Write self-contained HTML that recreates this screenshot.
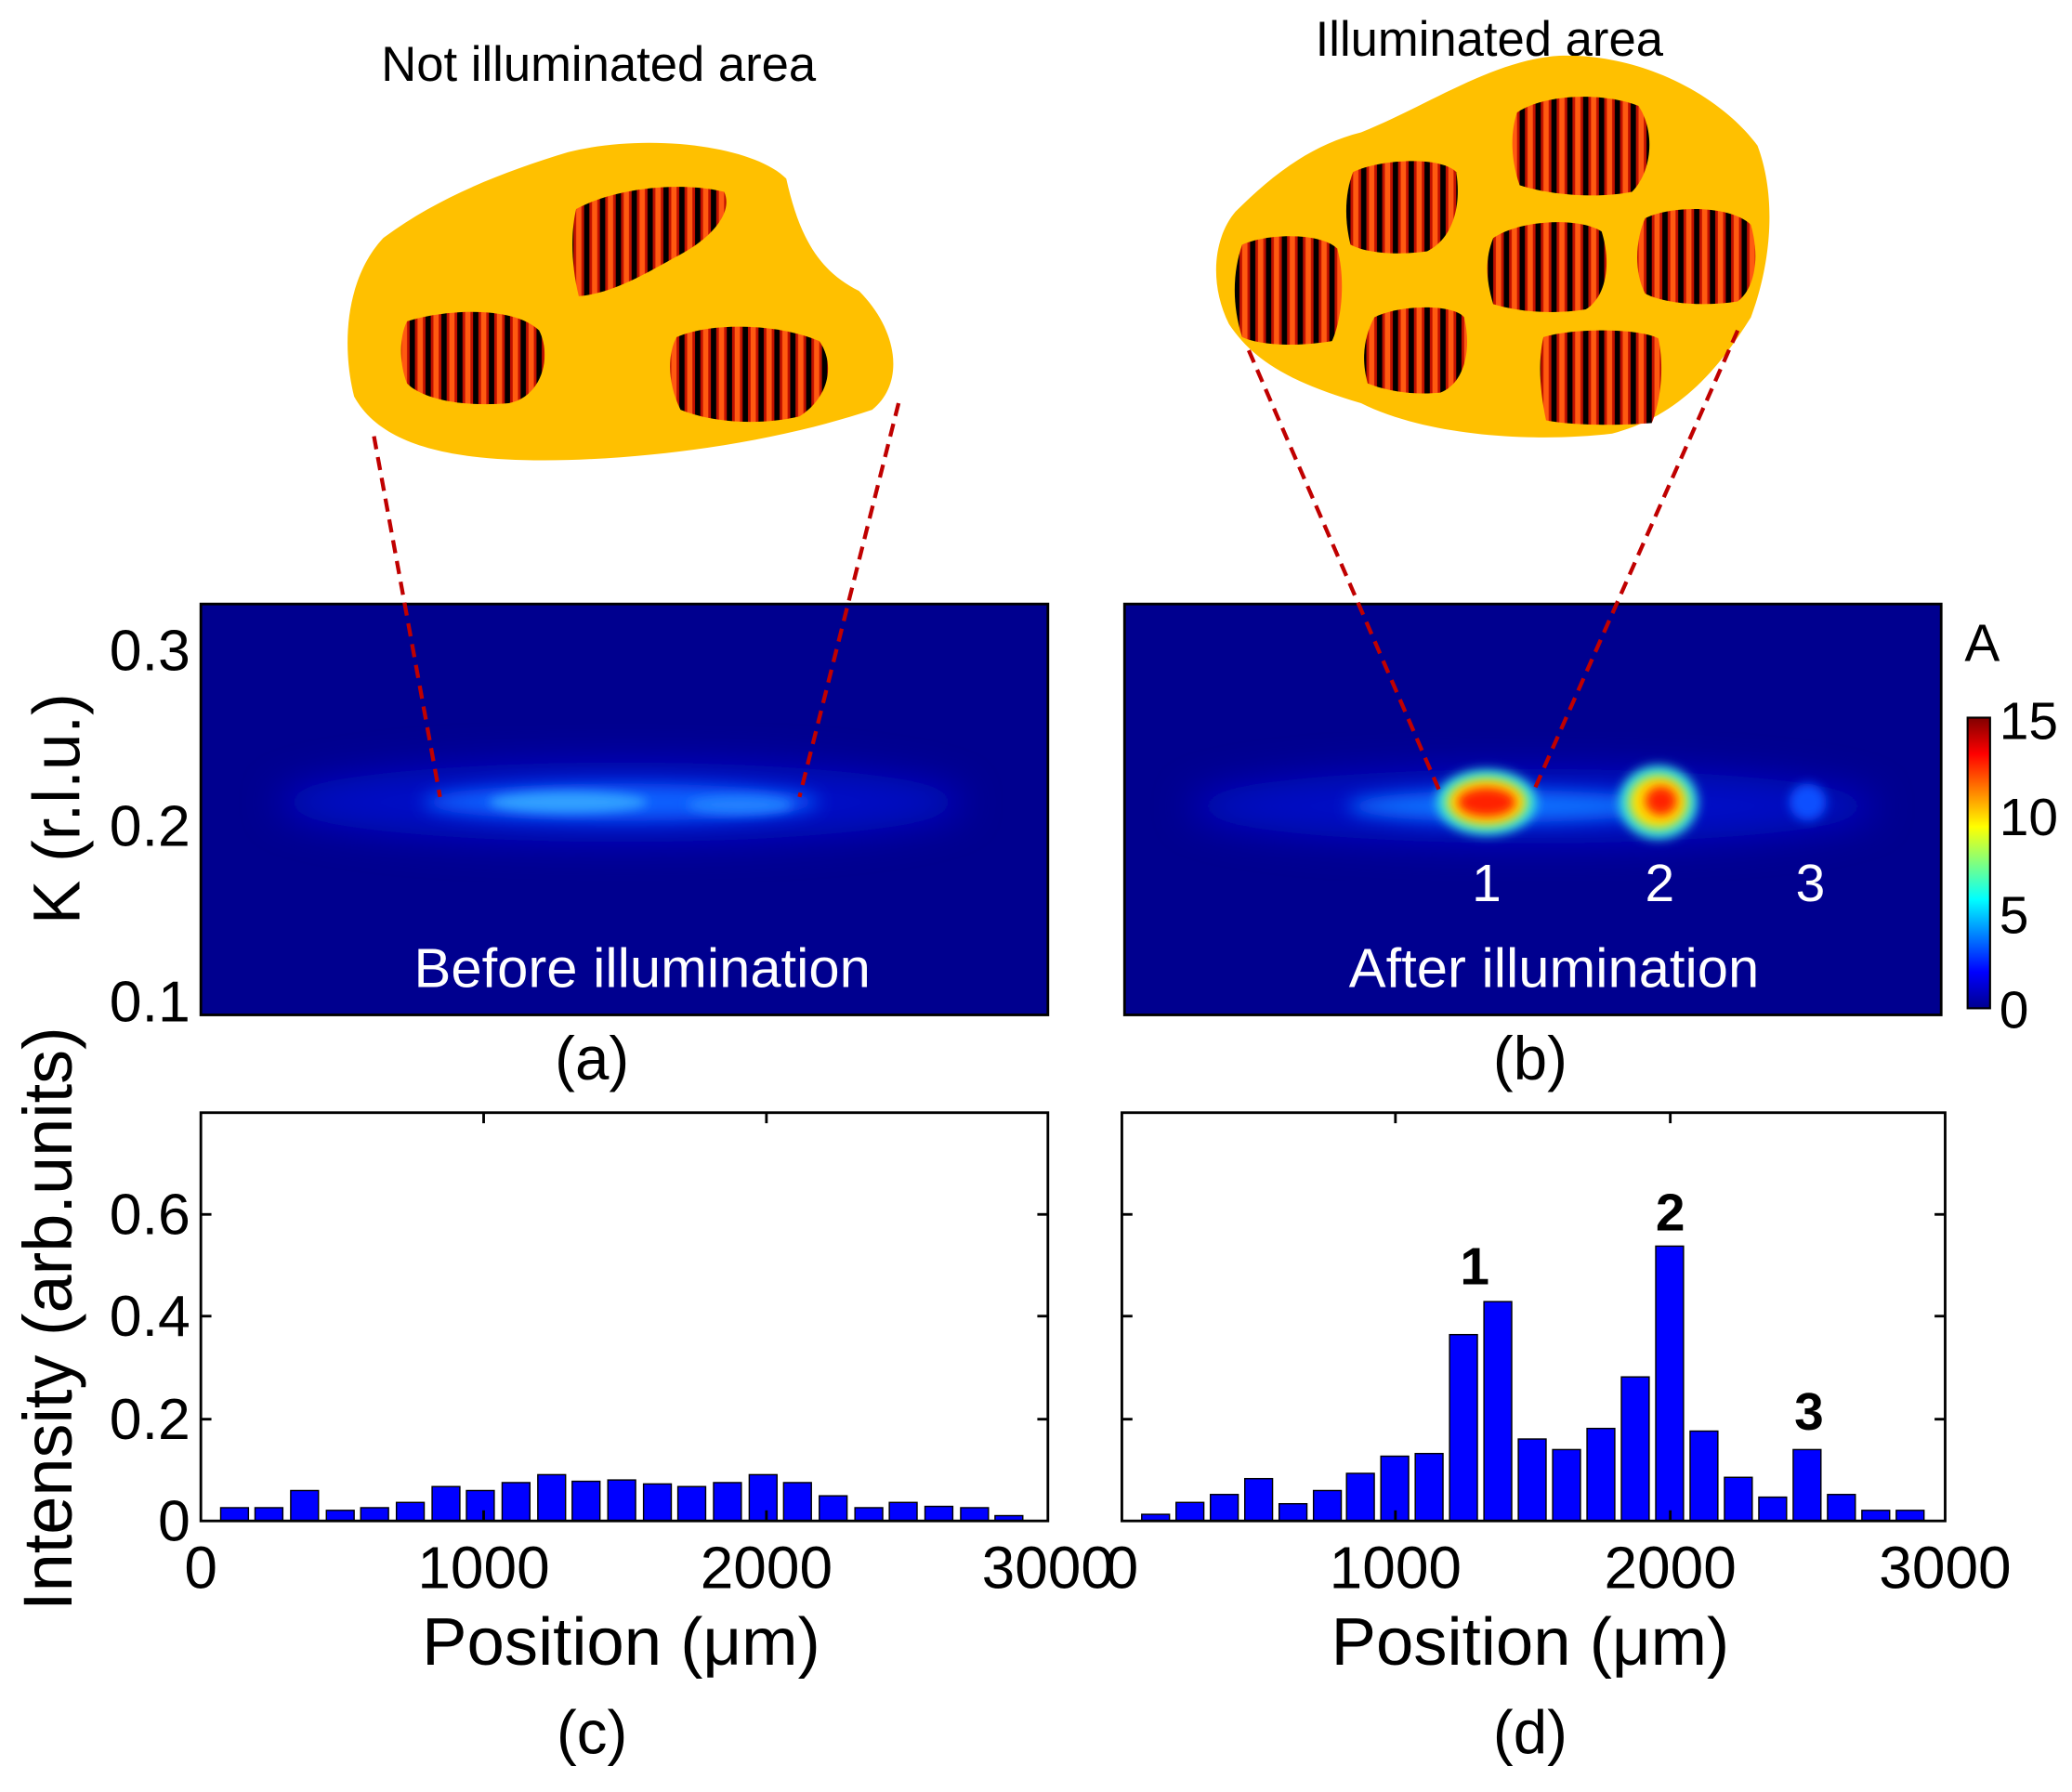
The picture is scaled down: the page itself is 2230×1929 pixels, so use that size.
<!DOCTYPE html>
<html><head><meta charset="utf-8"><style>
html,body{margin:0;padding:0;background:#fff}
svg{display:block}
text{font-family:"Liberation Sans",Arial,sans-serif;fill:#000}
</style></head><body>
<svg width="2230" height="1929" viewBox="0 0 1568 1356" xmlns="http://www.w3.org/2000/svg">
<defs>
<pattern id="st" width="12" height="10" patternUnits="userSpaceOnUse">
<rect width="12" height="10" fill="#000"/>
<rect x="2" width="8" height="10" fill="#c01000"/>
<rect x="4" width="4" height="10" fill="#ff5a10"/>
</pattern>
<filter id="b1" x="-50%" y="-50%" width="200%" height="200%"><feGaussianBlur stdDeviation="14"/></filter>
<filter id="b2" x="-50%" y="-50%" width="200%" height="200%"><feGaussianBlur stdDeviation="7"/></filter>
<filter id="b3" x="-50%" y="-50%" width="200%" height="200%"><feGaussianBlur stdDeviation="4"/></filter>
<linearGradient id="cb" x1="0" y1="1" x2="0" y2="0">
<stop offset="0" stop-color="#00008f"/><stop offset="0.125" stop-color="#0000ff"/><stop offset="0.375" stop-color="#00ffff"/><stop offset="0.625" stop-color="#ffff00"/><stop offset="0.875" stop-color="#ff0000"/><stop offset="1" stop-color="#800000"/>
</linearGradient>
<clipPath id="ca"><rect x="152" y="457" width="641" height="311"/></clipPath>
<clipPath id="cbp"><rect x="851" y="457" width="618" height="311"/></clipPath>
</defs>

<text x="453" y="61" font-size="37" text-anchor="middle">Not illuminated area</text>
<text x="1127" y="42" font-size="37" text-anchor="middle">Illuminated area</text>

<!-- left blob -->
<path d="M290,180 C330,150 380,130 430,115 C490,100 570,110 595,135 C605,180 620,205 650,220 C680,250 685,290 660,310 C600,330 520,345 430,348 C350,350 290,340 268,300 C258,260 262,210 290,180 Z" fill="#ffc000"/>
<path d="M308,243 C340,233 390,232 408,250 C418,270 410,300 385,305 C350,308 320,302 308,290 C302,275 302,255 308,243 Z" fill="url(#st)"/>
<path d="M436,158 C470,140 520,138 548,145 C555,160 540,180 510,195 C480,212 460,222 438,224 C432,200 432,175 436,158 Z" fill="url(#st)"/>
<path d="M512,255 C540,243 590,245 620,258 C632,275 628,300 605,315 C575,322 540,320 515,310 C505,290 505,268 512,255 Z" fill="url(#st)"/>

<!-- right blob -->
<path d="M935,160 C960,135 990,110 1030,100 C1080,80 1130,45 1180,42 C1240,40 1300,70 1330,110 C1345,150 1340,200 1325,240 C1300,280 1270,315 1220,328 C1160,335 1080,330 1030,305 C980,290 950,275 930,245 C915,215 918,180 935,160 Z" fill="#ffc000"/>
<path d="M940,185 C960,176 1000,176 1012,188 C1018,210 1016,240 1008,258 C985,262 955,262 940,255 C932,230 933,205 940,185 Z" fill="url(#st)"/>
<path d="M1024,130 C1045,120 1090,118 1102,130 C1106,155 1100,180 1080,190 C1060,193 1035,192 1022,185 C1017,165 1018,145 1024,130 Z" fill="url(#st)"/>
<path d="M1148,85 C1170,70 1215,70 1240,80 C1253,100 1250,130 1235,145 C1210,150 1175,148 1150,140 C1143,120 1143,100 1148,85 Z" fill="url(#st)"/>
<path d="M1130,180 C1150,166 1195,164 1212,175 C1220,200 1215,225 1200,234 C1175,238 1150,236 1130,230 C1124,210 1124,195 1130,180 Z" fill="url(#st)"/>
<path d="M1245,165 C1265,155 1310,155 1325,170 C1332,195 1328,218 1315,228 C1290,232 1260,230 1245,222 C1236,205 1238,180 1245,165 Z" fill="url(#st)"/>
<path d="M1040,240 C1060,230 1100,230 1108,240 C1114,265 1108,290 1090,297 C1070,299 1050,296 1035,290 C1030,272 1032,255 1040,240 Z" fill="url(#st)"/>
<path d="M1168,255 C1190,248 1240,248 1255,256 C1260,280 1256,305 1250,320 C1225,322 1190,322 1170,318 C1165,295 1164,272 1168,255 Z" fill="url(#st)"/>

<!-- panel a -->
<g clip-path="url(#ca)">
<rect x="152" y="457" width="641" height="311" fill="#00008f"/>
<ellipse cx="470" cy="607" rx="260" ry="30" fill="#0010c8" filter="url(#b1)"/>
<ellipse cx="470" cy="607" rx="150" ry="14" fill="#1060ff" filter="url(#b2)"/>
<ellipse cx="430" cy="607" rx="60" ry="8" fill="#30a0ff" filter="url(#b3)"/>
<ellipse cx="560" cy="609" rx="40" ry="7" fill="#2080ff" filter="url(#b3)"/>
</g>
<rect x="152" y="457" width="641" height="311" fill="none" stroke="#000" stroke-width="2"/>
<text x="486" y="747" font-size="42" text-anchor="middle" style="fill:#fff">Before illumination</text>

<!-- panel b -->
<g clip-path="url(#cbp)">
<rect x="851" y="457" width="618" height="311" fill="#00008f"/>
<ellipse cx="1160" cy="610" rx="260" ry="28" fill="#0010c8" filter="url(#b1)"/>
<ellipse cx="1140" cy="610" rx="120" ry="12" fill="#1070ff" filter="url(#b2)"/>
<ellipse cx="1368" cy="607" rx="14" ry="14" fill="#1050ff" filter="url(#b3)"/>
<ellipse cx="1125" cy="607" rx="38" ry="25" fill="#30e0e0" filter="url(#b3)"/>
<ellipse cx="1125" cy="607" rx="30" ry="18" fill="#ffe000" filter="url(#b3)"/>
<ellipse cx="1125" cy="607" rx="22" ry="11" fill="#ff2000" filter="url(#b3)"/>
<ellipse cx="1255" cy="607" rx="30" ry="28" fill="#30e0e0" filter="url(#b3)"/>
<ellipse cx="1255" cy="607" rx="22" ry="20" fill="#ffe000" filter="url(#b3)"/>
<ellipse cx="1257" cy="606" rx="12" ry="11" fill="#ff2000" filter="url(#b3)"/>
</g>
<rect x="851" y="457" width="618" height="311" fill="none" stroke="#000" stroke-width="2"/>
<text x="1176" y="747" font-size="42" text-anchor="middle" style="fill:#fff">After illumination</text>
<text x="1125" y="682" font-size="40" text-anchor="middle" style="fill:#fff">1</text>
<text x="1256" y="682" font-size="40" text-anchor="middle" style="fill:#fff">2</text>
<text x="1370" y="682" font-size="40" text-anchor="middle" style="fill:#fff">3</text>

<!-- dashed lines -->
<g stroke="#c00000" stroke-width="3" stroke-dasharray="10,6" fill="none">
<line x1="283" y1="330" x2="333" y2="603"/>
<line x1="680" y1="305" x2="605" y2="603"/>
<line x1="945" y1="265" x2="1090" y2="600"/>
<line x1="1315" y1="250" x2="1160" y2="600"/>
</g>

<!-- colorbar -->
<rect x="1489" y="543" width="17" height="220" fill="url(#cb)" stroke="#000" stroke-width="1.5"/>
<text x="1500" y="500" font-size="40" text-anchor="middle">A</text>
<g font-size="40">
<text x="1513" y="559">15</text><text x="1513" y="632">10</text><text x="1513" y="706">5</text><text x="1513" y="778">0</text>
</g>

<!-- y labels a -->
<g font-size="44" text-anchor="end">
<text x="144" y="507">0.3</text><text x="144" y="640">0.2</text><text x="144" y="773">0.1</text>
</g>
<text transform="translate(60,612) rotate(-90)" font-size="50" text-anchor="middle">K (r.l.u.)</text>
<text x="448" y="817" font-size="46" text-anchor="middle">(a)</text>
<text x="1158" y="817" font-size="46" text-anchor="middle">(b)</text>

<!-- panel c -->
<g fill="#0000ff" stroke="#000" stroke-width="1">
<rect x="167" y="1141" width="21" height="10"/><rect x="193" y="1141" width="21" height="10"/><rect x="220" y="1128" width="21" height="23"/><rect x="247" y="1143" width="21" height="8"/><rect x="273" y="1141" width="21" height="10"/><rect x="300" y="1137" width="21" height="14"/><rect x="327" y="1125" width="21" height="26"/><rect x="353" y="1128" width="21" height="23"/><rect x="380" y="1122" width="21" height="29"/><rect x="407" y="1116" width="21" height="35"/><rect x="433" y="1121" width="21" height="30"/><rect x="460" y="1120" width="21" height="31"/><rect x="487" y="1123" width="21" height="28"/><rect x="513" y="1125" width="21" height="26"/><rect x="540" y="1122" width="21" height="29"/><rect x="567" y="1116" width="21" height="35"/><rect x="593" y="1122" width="21" height="29"/><rect x="620" y="1132" width="21" height="19"/><rect x="647" y="1141" width="21" height="10"/><rect x="673" y="1137" width="21" height="14"/><rect x="700" y="1140" width="21" height="11"/><rect x="727" y="1141" width="21" height="10"/><rect x="753" y="1147" width="21" height="4"/>
</g>
<rect x="152" y="842" width="641" height="309" fill="none" stroke="#000" stroke-width="2"/>
<g stroke="#000" stroke-width="2">
<line x1="366" y1="1151" x2="366" y2="1143"/><line x1="580" y1="1151" x2="580" y2="1143"/>
<line x1="366" y1="842" x2="366" y2="850"/><line x1="580" y1="842" x2="580" y2="850"/>
<line x1="152" y1="1074" x2="160" y2="1074"/><line x1="152" y1="996" x2="160" y2="996"/><line x1="152" y1="919" x2="160" y2="919"/>
<line x1="793" y1="1074" x2="785" y2="1074"/><line x1="793" y1="996" x2="785" y2="996"/><line x1="793" y1="919" x2="785" y2="919"/>
</g>
<g font-size="44" text-anchor="end">
<text x="144" y="1166">0</text><text x="144" y="1089">0.2</text><text x="144" y="1011">0.4</text><text x="144" y="934">0.6</text>
</g>
<g font-size="45" text-anchor="middle">
<text x="152" y="1202">0</text><text x="366" y="1202">1000</text><text x="580" y="1202">2000</text><text x="793" y="1202">3000</text>
</g>
<text transform="translate(54,998) rotate(-90)" font-size="52" text-anchor="middle">Intensity (arb.units)</text>
<text x="470" y="1260" font-size="51" text-anchor="middle">Position (μm)</text>
<text x="448" y="1327" font-size="46" text-anchor="middle">(c)</text>

<!-- panel d -->
<g fill="#0000ff" stroke="#000" stroke-width="1">
<rect x="864" y="1146" width="21" height="5"/><rect x="890" y="1137" width="21" height="14"/><rect x="916" y="1131" width="21" height="20"/><rect x="942" y="1119" width="21" height="32"/><rect x="968" y="1138" width="21" height="13"/><rect x="994" y="1128" width="21" height="23"/><rect x="1019" y="1115" width="21" height="36"/><rect x="1045" y="1102" width="21" height="49"/><rect x="1071" y="1100" width="21" height="51"/><rect x="1097" y="1010" width="21" height="141"/><rect x="1123" y="985" width="21" height="166"/><rect x="1149" y="1089" width="21" height="62"/><rect x="1175" y="1097" width="21" height="54"/><rect x="1201" y="1081" width="21" height="70"/><rect x="1227" y="1042" width="21" height="109"/><rect x="1253" y="943" width="21" height="208"/><rect x="1279" y="1083" width="21" height="68"/><rect x="1305" y="1118" width="21" height="33"/><rect x="1331" y="1133" width="21" height="18"/><rect x="1357" y="1097" width="21" height="54"/><rect x="1383" y="1131" width="21" height="20"/><rect x="1409" y="1143" width="21" height="8"/><rect x="1435" y="1143" width="21" height="8"/>
</g>
<rect x="849" y="842" width="623" height="309" fill="none" stroke="#000" stroke-width="2"/>
<g stroke="#000" stroke-width="2">
<line x1="1056" y1="1151" x2="1056" y2="1143"/><line x1="1264" y1="1151" x2="1264" y2="1143"/>
<line x1="1056" y1="842" x2="1056" y2="850"/><line x1="1264" y1="842" x2="1264" y2="850"/>
<line x1="849" y1="1074" x2="857" y2="1074"/><line x1="849" y1="996" x2="857" y2="996"/><line x1="849" y1="919" x2="857" y2="919"/>
<line x1="1472" y1="1074" x2="1464" y2="1074"/><line x1="1472" y1="996" x2="1464" y2="996"/><line x1="1472" y1="919" x2="1464" y2="919"/>
</g>
<g font-size="45" text-anchor="middle">
<text x="849" y="1202">0</text><text x="1056" y="1202">1000</text><text x="1264" y="1202">2000</text><text x="1472" y="1202">3000</text>
</g>
<g font-size="40" font-weight="bold" text-anchor="middle">
<text x="1116" y="972">1</text><text x="1264" y="931">2</text><text x="1369" y="1082">3</text>
</g>
<text x="1158" y="1260" font-size="51" text-anchor="middle">Position (μm)</text>
<text x="1158" y="1327" font-size="46" text-anchor="middle">(d)</text>
</svg>
</body></html>
